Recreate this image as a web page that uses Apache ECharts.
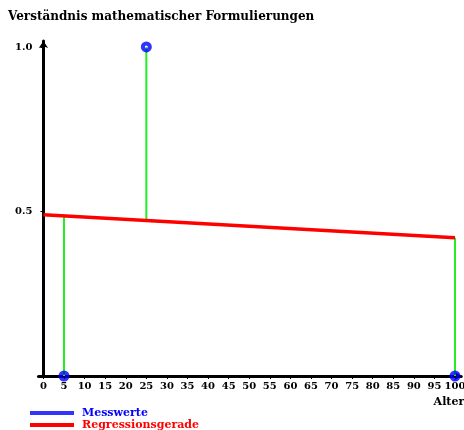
<!DOCTYPE html>
<html>
<head>
<meta charset="utf-8">
<script src="https://cdn.jsdelivr.net/npm/echarts@6/dist/echarts.min.js"></script>
<style>
  html, body { margin: 0; padding: 0; background: #fff; }
  #chart { width: 464px; height: 430px; }
</style>
</head>
<body>
<div id="chart"></div>
<script>
// Measured values: age vs. understanding score
const ages = [5, 25, 100];
const scores = [0, 1, 0];
// Regression line endpoints (age, value)
const regAges = [0, 100];
const regValues = [0.49, 0.42];
// Value of the regression line at each measured age (residual endpoints)
const fittedValues = [0.4865, 0.4725, 0.42];
// Axis tick labels
const xTicks = [0, 5, 10, 15, 20, 25, 30, 35, 40, 45, 50, 55, 60, 65, 70, 75, 80, 85, 90, 95, 100];
const yTicks = [0.5, 1.0];

const serifBold = { fontFamily: 'DejaVu Serif', fontWeight: 'bold', color: '#000' };

const residualSeries = ages.map((a, i) => ({
  name: 'Residuum' + i,
  type: 'line',
  data: [[a, scores[i]], [a, fittedValues[i]]],
  symbol: 'none',
  lineStyle: { color: '#22ee22', width: 2 },
  z: 2,
  silent: true
}));

const chart = echarts.init(document.getElementById('chart'), null, { renderer: 'canvas' });
chart.setOption({
  animation: false,
  title: {
    text: 'Verständnis mathematischer Formulierungen',
    left: 3,
    top: 6,
    textStyle: { fontFamily: 'DejaVu Serif', fontWeight: 'bold', fontSize: 12, color: '#000' }
  },
  legend: {
    orient: 'vertical',
    left: 30,
    top: 407,
    height: 26,
    padding: 0,
    itemGap: 0,
    itemWidth: 44,
    itemHeight: 4,
    icon: 'rect',
    textStyle: { fontFamily: 'DejaVu Serif', fontWeight: 'bold', fontSize: 11, lineHeight: 12, padding: [0, 0, 0, 3] },
    data: [
      { name: 'Messwerte', itemStyle: { color: '#0000ff', borderWidth: 0 }, textStyle: { color: '#0000ff' } },
      { name: 'Regressionsgerade', itemStyle: { color: '#ff0000' }, textStyle: { color: '#ff0000' } }
    ]
  },
  grid: { left: 38.5, right: 2.8, top: 41, bottom: 54, containLabel: false, outerBoundsMode: 'none' },
  xAxis: {
    type: 'value',
    min: -1.2,
    max: 101.5,
    name: 'Alter',
    nameLocation: 'end',
    nameGap: 3,
    nameTextStyle: Object.assign({}, serifBold, { fontSize: 11, align: 'right', verticalAlign: 'top', padding: [21, 0, 0, 0] }),
    axisLine: { onZero: true, lineStyle: { color: '#000', width: 3 }, symbol: ['none', 'arrow'], symbolSize: [7, 7] },
    axisTick: { customValues: xTicks, length: 3, lineStyle: { color: '#000', width: 1 } },
    axisLabel: Object.assign({ customValues: xTicks, fontSize: 10, margin: 5, hideOverlap: false, formatter: v => String(v) }, serifBold),
    splitLine: { show: false }
  },
  yAxis: {
    type: 'value',
    min: 0,
    max: 1.018,
    axisLine: { onZero: true, lineStyle: { color: '#000', width: 3 }, symbol: ['none', 'arrow'], symbolSize: [7, 7] },
    axisTick: { customValues: yTicks, length: 3, lineStyle: { color: '#000', width: 1 } },
    axisLabel: Object.assign({ customValues: yTicks, fontSize: 10, margin: 6, formatter: v => v.toFixed(1) }, serifBold),
    splitLine: { show: false }
  },
  series: [
    ...residualSeries,
    {
      name: 'Regressionsgerade',
      type: 'line',
      data: regAges.map((a, i) => [a, regValues[i]]),
      symbol: 'none',
      color: '#ff0000',
      lineStyle: { color: '#ff0000', width: 3.5 },
      z: 3
    },
    {
      name: 'Messwerte',
      type: 'scatter',
      data: ages.map((a, i) => [a, scores[i]]),
      symbol: 'circle',
      symbolSize: 7,
      color: '#0000ff',
      itemStyle: { color: 'rgba(255,255,255,0)', borderColor: '#0000ff', borderWidth: 4 },
      z: 4
    }
  ]
});
</script>
</body>
</html>
